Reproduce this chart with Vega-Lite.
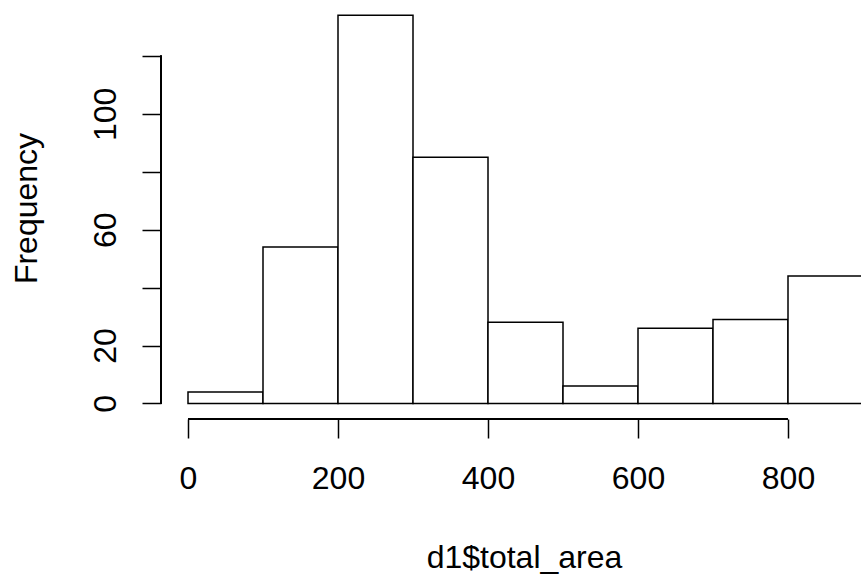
{
  "$schema": "https://vega.github.io/schema/vega-lite/v6.json",
  "width": 700,
  "height": 419,
  "autosize": {"type": "none"},
  "padding": {"left": 161, "top": 0, "right": 0, "bottom": 159},
  "background": "white",
  "view": {"stroke": null},
  "config": {
    "font": "Liberation Sans",
    "axis": {
      "labelFont": "Liberation Sans",
      "titleFont": "Liberation Sans",
      "labelColor": "#000000",
      "titleColor": "#000000",
      "tickColor": "#000000",
      "labelFontSize": 32,
      "titleFontSize": 32,
      "titleFontWeight": "normal",
      "tickSize": 19,
      "tickWidth": 1.5,
      "domain": false,
      "grid": false,
      "labelFlush": false,
      "labelOverlap": false
    }
  },
  "data": {
    "values": [
      {"start": 0, "end": 100, "count": 4},
      {"start": 100, "end": 200, "count": 54},
      {"start": 200, "end": 300, "count": 134},
      {"start": 300, "end": 400, "count": 85},
      {"start": 400, "end": 500, "count": 28},
      {"start": 500, "end": 600, "count": 6},
      {"start": 600, "end": 700, "count": 26},
      {"start": 700, "end": 800, "count": 29},
      {"start": 800, "end": 900, "count": 44}
    ]
  },
  "layer": [
    {
      "mark": {"type": "bar", "fill": "white", "stroke": "black", "strokeWidth": 1.5, "clip": true},
      "encoding": {
        "x": {
          "field": "start",
          "type": "quantitative",
          "scale": {"domain": [-36, 897.33], "nice": false, "zero": false},
          "axis": {
            "values": [0, 200, 400, 600, 800],
            "title": "d1$total_area",
            "labelBaseline": "alphabetic",
            "labelPadding": 50,
            "titleX": 363,
            "titleY": 148,
            "titleAlign": "center",
            "titleBaseline": "alphabetic"
          }
        },
        "x2": {"field": "end"},
        "y": {
          "field": "count",
          "type": "quantitative",
          "scale": {"domain": [-5.36, 139.28], "nice": false, "zero": false},
          "axis": {
            "values": [0, 20, 40, 60, 80, 100, 120],
            "labelExpr": "datum.value == 40 || datum.value == 80 || datum.value == 120 ? '' : datum.label",
            "title": "Frequency",
            "labelAngle": 270,
            "labelAlign": "center",
            "labelBaseline": "alphabetic",
            "labelPadding": 27,
            "titleAngle": 270,
            "titleX": -125,
            "titleY": 208,
            "titleAlign": "center",
            "titleBaseline": "alphabetic"
          }
        },
        "y2": {"datum": 0}
      }
    },
    {
      "mark": {"type": "rule", "color": "black", "strokeWidth": 1.5},
      "encoding": {
        "x": {"datum": -36},
        "y": {"datum": 0},
        "y2": {"datum": 120}
      }
    },
    {
      "mark": {"type": "rule", "color": "black", "strokeWidth": 1.5},
      "encoding": {
        "y": {"datum": -5.36},
        "x": {"datum": 0},
        "x2": {"datum": 800}
      }
    }
  ]
}
